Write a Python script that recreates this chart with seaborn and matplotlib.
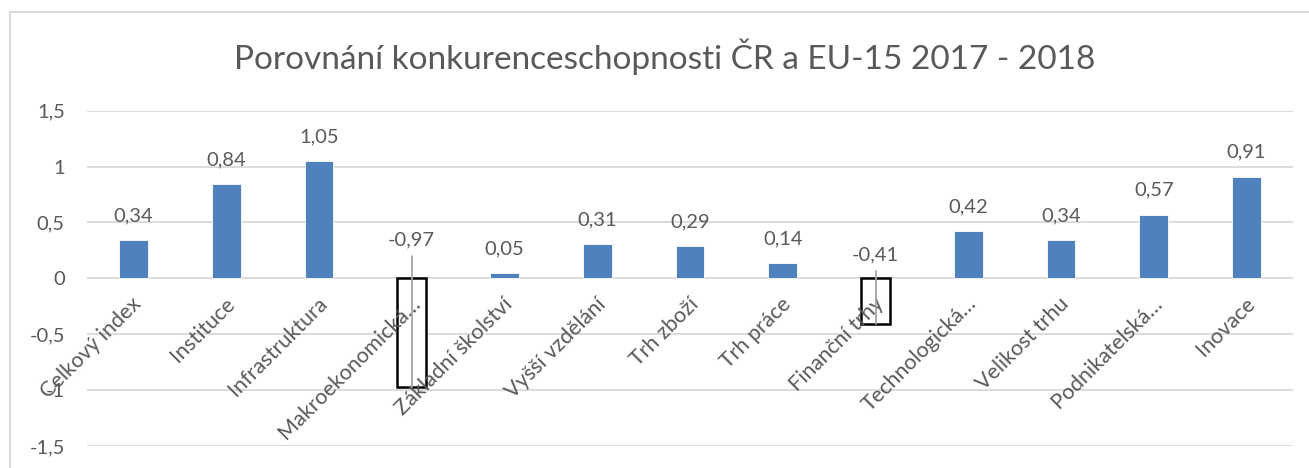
import pandas as pd
import numpy as np
import matplotlib
matplotlib.use("Agg")
import matplotlib.pyplot as plt
import matplotlib.transforms as mtransforms
from matplotlib.patches import Rectangle
import seaborn as sns

# Categories and differences CR vs EU-15
categories = ["Celkový index", "Instituce", "Infrastruktura", "Makroekonomická…",
              "Základní školství", "Vyšší vzdělání", "Trh zboží", "Trh práce",
              "Finanční trhy", "Technologická…", "Velikost trhu", "Podnikatelská…",
              "Inovace"]
values = [0.34, 0.84, 1.05, -0.97, 0.05, 0.31, 0.29, 0.14, -0.41, 0.42, 0.34, 0.57, 0.91]
y_ticks = [-1.5, -1, -0.5, 0, 0.5, 1, 1.5]

title = "Porovnání konkurenceschopnosti ČR a EU-15 2017 - 2018"

sns.set_theme(style="white")
plt.rcParams["font.family"] = ["Lato", "DejaVu Sans"]

text_col = "#595959"
grid_col = "#d9d9d9"
blue = "#4f81bd"
fs = 14.5

df = pd.DataFrame({"kategorie": categories, "hodnota": values})

fig = plt.figure(figsize=(13.09, 4.68), dpi=100)
ax = fig.add_axes([87 / 1309, 1 - 446 / 468, (1293 - 87) / 1309, (446 - 110.7) / 468])

sns.barplot(data=df, x="kategorie", y="hodnota", color=blue, width=0.31,
            saturation=1, ax=ax, zorder=3)

# negative bars drawn as outlines only (Excel "invert if negative")
for patch, v in zip(ax.patches, values):
    if v < 0:
        patch.set_facecolor("white")
        patch.set_edgecolor("black")
        patch.set_linewidth(1.8)
    else:
        patch.set_edgecolor("#ffffff")
        patch.set_linewidth(0.6)

ax.set_xlim(-0.5, len(categories) - 0.5)
ax.set_ylim(-1.5, 1.5)
ax.set_yticks(y_ticks)
ax.set_yticklabels([("%g" % t).replace(".", ",") for t in y_ticks],
                   color=text_col, fontsize=fs)
ax.yaxis.grid(True, color=grid_col, linewidth=1.3)
ax.set_axisbelow(True)
ax.tick_params(axis="y", length=0, pad=16)

# category labels sit on the zero line, above the bars
ax.spines["bottom"].set_position(("data", 0))
ax.spines["bottom"].set_visible(False)
for s in ["top", "right", "left"]:
    ax.spines[s].set_visible(False)
ax.tick_params(axis="x", length=0, pad=11)
ax.set_xticks(range(len(categories)))
ax.set_xticklabels(categories, rotation=45, ha="right", rotation_mode="anchor",
                   color=text_col, fontsize=15.5)
shift = mtransforms.ScaledTranslation(-2 / 100, 0, fig.dpi_scale_trans)
for lbl in ax.get_xticklabels():
    lbl.set_transform(lbl.get_transform() + shift)
ax.xaxis.set_zorder(5)
ax.set_xlabel("")
ax.set_ylabel("")

# data labels
neg_label_y = {3: 0.345, 8: 0.21}
for i, v in enumerate(values):
    txt = ("%.2f" % v).replace(".", ",")
    if v >= 0:
        ax.annotate(txt, (i, v), xytext=(0, 17.5), textcoords="offset points",
                    ha="center", va="center", fontsize=fs, color=text_col)
    else:
        ly = neg_label_y[i]
        ax.text(i, ly, txt, ha="center", va="center", fontsize=fs, color=text_col)
        ax.plot([i, i], [ly - 0.148, v], color="#a6a6a6", lw=1.3, zorder=6)

fig.text(665 / 1309, 1 - 57 / 468, title, ha="center", va="center",
         fontsize=24, color=text_col)

fig.add_artist(Rectangle((10 / 1309, -0.1), 1.5, 1 - 12 / 468 + 0.1,
                         transform=fig.transFigure, fill=False,
                         edgecolor=grid_col, linewidth=1.5))

fig.savefig("out.png", dpi=100)
